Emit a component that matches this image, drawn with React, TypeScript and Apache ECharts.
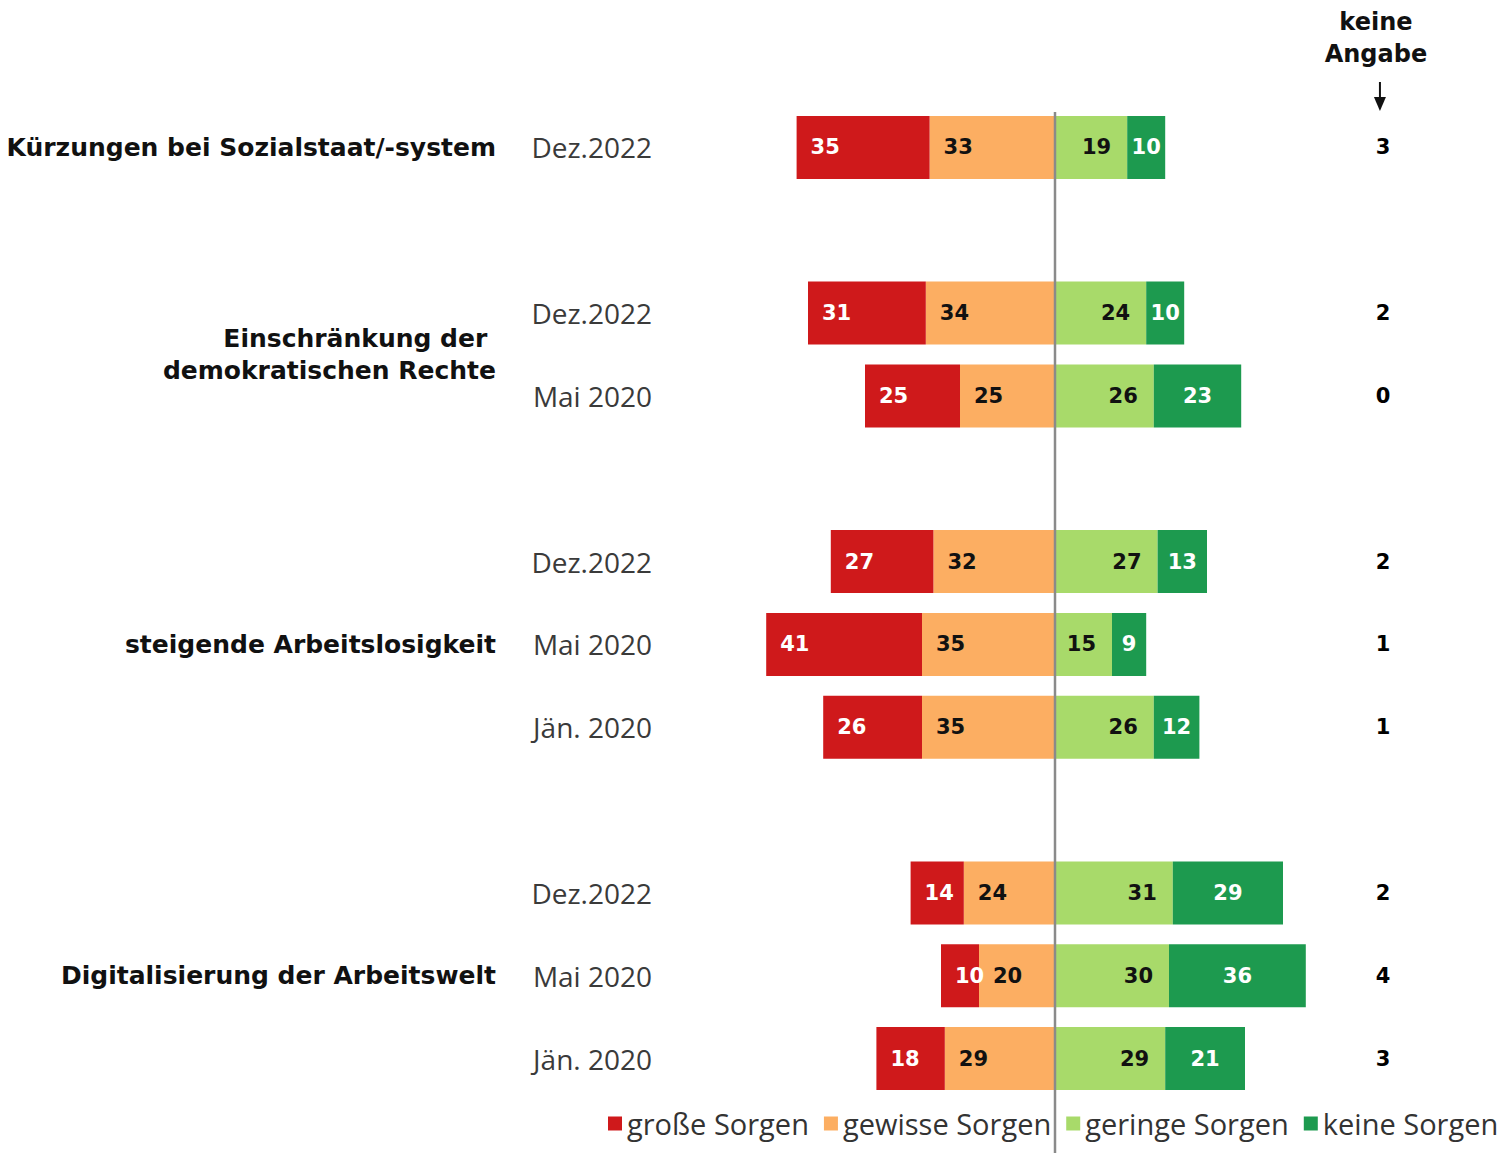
import React, { useEffect, useRef } from 'react';
import * as echarts from 'echarts';

// 12 row slots (empty slots separate the groups)
const rowLabels = ['Dez.2022', '', 'Dez.2022', 'Mai 2020', '', 'Dez.2022', 'Mai 2020', 'Jän. 2020', '', 'Dez.2022', 'Mai 2020', 'Jän. 2020'];
const grosseSorgen = [35, null, 31, 25, null, 27, 41, 26, null, 14, 10, 18];
const gewisseSorgen = [33, null, 34, 25, null, 32, 35, 35, null, 24, 20, 29];
const geringeSorgen = [19, null, 24, 26, null, 27, 15, 26, null, 31, 30, 29];
const keineSorgen = [10, null, 10, 23, null, 13, 9, 12, null, 29, 36, 21];
const keineAngabe = [3, null, 2, 0, null, 2, 1, 1, null, 2, 4, 3];

const groupNames = ['Kürzungen bei Sozialstaat/-system', 'Einschränkung der \ndemokratischen Rechte', 'steigende Arbeitslosigkeit', 'Digitalisierung der Arbeitswelt'];
const groupRows = [[0], [2, 3], [5, 6, 7], [9, 10, 11]];

const seriesNames = ['große Sorgen', 'gewisse Sorgen', 'geringe Sorgen', 'keine Sorgen'];
const colors = { grosse: '#cf191b', gewisse: '#fcae62', geringe: '#a8da6a', keine: '#1d9a4f' };

const NA_X = 86.3; // layout column for "keine Angabe"
const FONT = '"Open Sans", sans-serif';
const BOLD_FONT = '"DejaVu Sans", sans-serif';

const toCell = (v: number | null, sign: number) => (v === null ? '-' : sign * v);

export default function App() {
  const ref = useRef<HTMLDivElement>(null);
  useEffect(() => {
    const chart = echarts.init(ref.current!, null, { renderer: 'svg' });
    const labelBase = { show: true, fontFamily: BOLD_FONT, fontWeight: 'bold' as const, fontSize: 21 };
    const absFmt = (p: any) => String(Math.abs(p.value));
    const option: any = {
      animation: false,
      grid: { left: 675, width: 760, top: 106, height: 994 },
      xAxis: { type: 'value', min: -100, max: 100, show: false },
      yAxis: {
        type: 'category',
        inverse: true,
        data: rowLabels.map((_, i) => String(i)),
        axisLine: { show: false },
        axisTick: { show: false },
        splitLine: { show: false },
        axisLabel: {
          margin: 23,
          fontFamily: FONT,
          fontSize: 28,
          color: '#3a3a3a',
          formatter: (_v: string, idx: number) => rowLabels[idx],
        },
      },
      legend: {
        data: seriesNames,
        left: 603,
        top: 1104,
        icon: 'rect',
        itemWidth: 14,
        itemHeight: 14,
        itemGap: 15,
        textStyle: { fontFamily: FONT, fontSize: 29, color: '#333' },
        selectedMode: false,
      },
      series: [
        {
          name: 'gewisse Sorgen', type: 'bar', stack: 's', barWidth: 63,
          itemStyle: { color: colors.gewisse },
          data: gewisseSorgen.map((v) => toCell(v, -1)),
          label: { ...labelBase, position: 'insideLeft', distance: 14, color: '#111', formatter: absFmt },
        },
        {
          name: 'große Sorgen', type: 'bar', stack: 's', barWidth: 63,
          itemStyle: { color: colors.grosse },
          data: grosseSorgen.map((v) => toCell(v, -1)),
          label: { ...labelBase, position: 'insideLeft', distance: 14, color: '#fff', formatter: absFmt },
        },
        {
          name: 'geringe Sorgen', type: 'bar', stack: 's', barWidth: 63,
          itemStyle: { color: colors.geringe },
          data: geringeSorgen.map((v) => toCell(v, 1)),
          label: { ...labelBase, position: 'insideRight', distance: 16, color: '#111', formatter: absFmt },
        },
        {
          name: 'keine Sorgen', type: 'bar', stack: 's', barWidth: 63,
          itemStyle: { color: colors.keine },
          data: keineSorgen.map((v) => toCell(v, 1)),
          label: { ...labelBase, position: 'inside', color: '#fff', formatter: absFmt },
        },
        {
          name: 'keine Angabe', type: 'scatter', symbolSize: 0,
          itemStyle: { opacity: 1 },
          data: keineAngabe.map((v, i) => (v === null ? null : [NA_X, i, v])).filter((d) => d !== null),
          label: { ...labelBase, position: 'inside', color: '#000', opacity: 1, formatter: (p: any) => String(p.value[2]) },
        },
      ],
    };
    chart.setOption(option);

    const x0 = chart.convertToPixel({ xAxisIndex: 0 }, 0) as number;
    const naX = chart.convertToPixel({ xAxisIndex: 0 }, NA_X) as number;
    const groupTexts = groupNames.map((name, gi) => {
      const ys = groupRows[gi].map((r) => chart.convertToPixel({ yAxisIndex: 0 }, r) as number);
      const y = ys.reduce((a, b) => a + b, 0) / ys.length;
      return {
        type: 'text', x: 496, y,
        style: { text: name, align: 'right', verticalAlign: 'middle', fontFamily: BOLD_FONT, fontWeight: 'bold', fontSize: 25, lineHeight: 32, fill: '#111' },
      };
    });
    chart.setOption({
      graphic: [
        { type: 'line', z: 100, shape: { x1: x0, y1: 112, x2: x0, y2: 1153 }, style: { stroke: '#8a8a8a', lineWidth: 2.5 } },
        {
          type: 'text', x: naX - 7, y: 38,
          style: { text: 'keine\nAngabe', align: 'center', verticalAlign: 'middle', fontFamily: BOLD_FONT, fontWeight: 'bold', fontSize: 24, lineHeight: 32, fill: '#111' },
        },
        { type: 'line', shape: { x1: naX - 3, y1: 82, x2: naX - 3, y2: 100 }, style: { stroke: '#111', lineWidth: 2 } },
        { type: 'polygon', shape: { points: [[naX - 9, 97], [naX + 3, 97], [naX - 3, 111]] }, style: { fill: '#111' } },
        ...groupTexts,
      ],
    });
    return () => chart.dispose();
  }, []);
  return <div ref={ref} style={{ position: 'absolute', left: 0, top: 0, width: 1506, height: 1153 }} />;
}
